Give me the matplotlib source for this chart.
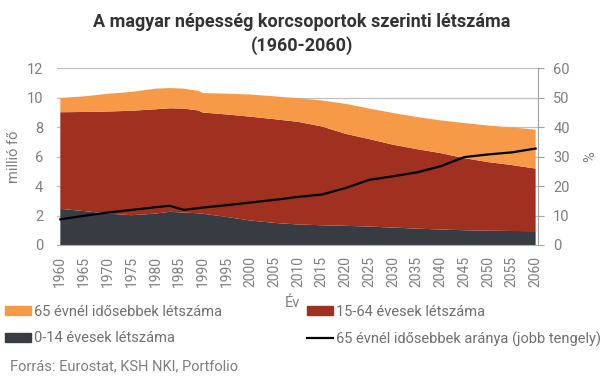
import matplotlib
matplotlib.use("Agg")
import matplotlib.pyplot as plt
from matplotlib.patches import Patch
from matplotlib.lines import Line2D

plt.rcParams['font.family'] = ['Roboto', 'DejaVu Sans']

years = [1960, 1965, 1970, 1975, 1980, 1983, 1986, 1989, 1990, 1995, 2000,
         2005, 2010, 2015, 2020, 2025, 2030, 2035, 2040, 2045, 2050, 2055, 2060]
age_0_14 = [2.45, 2.30, 2.13, 2.02, 2.13, 2.25, 2.20, 2.15, 2.12, 1.90, 1.66,
            1.50, 1.39, 1.34, 1.30, 1.25, 1.18, 1.11, 1.05, 1.00, 0.97, 0.95, 0.94]
age_15_64 = [6.55, 6.72, 6.92, 7.08, 7.07, 7.02, 7.05, 6.97, 6.86, 6.95, 7.04,
             7.03, 6.96, 6.70, 6.24, 5.93, 5.62, 5.39, 5.18, 4.89, 4.65, 4.47, 4.24]
age_65 = [0.96, 1.06, 1.20, 1.28, 1.40, 1.37, 1.35, 1.33, 1.32, 1.41, 1.50,
          1.55, 1.60, 1.76, 2.03, 2.07, 2.15, 2.18, 2.22, 2.38, 2.48, 2.55, 2.64]
share_65 = [8.7, 9.9, 11.0, 11.9, 12.8, 13.3, 11.9, 12.5, 12.7, 13.5, 14.4,
            15.3, 16.3, 17.1, 19.3, 22.1, 23.3, 24.6, 26.7, 29.8, 30.7, 31.4, 32.7]
xticks = list(range(1960, 2061, 5))

c_dark = '#373B42'
c_red = '#A0301F'
c_orange = '#F69A48'
grey_txt = '#7f7f7f'

fig = plt.figure(figsize=(6.06, 3.79), dpi=100)
ax = fig.add_axes([57/606, 1-245/379, (538-57)/606, (245-68)/379])
ax.stackplot(years, age_0_14, age_15_64, age_65,
             colors=[c_dark, c_red, c_orange], zorder=2)
ax.set_xlim(1959.3, 2060.5)
ax.set_ylim(0, 12)
ax.set_yticks(range(0, 13, 2))
ax.set_xticks(xticks)
ax.set_xticklabels([str(y) for y in xticks], rotation=90)
ax.grid(axis='y', color='#c0c0c0', lw=0.9, zorder=0)
ax.set_axisbelow(True)
for s in ['left', 'top', 'right']:
    ax.spines[s].set_visible(False)
ax.spines['bottom'].set_color('#b0b0b0')
ax.tick_params(axis='x', length=0, pad=8, labelsize=10, labelcolor=grey_txt)
ax.tick_params(axis='y', length=0, pad=10, labelsize=10.5, labelcolor=grey_txt)
ax.set_ylabel('millió fő', color=grey_txt, fontsize=10.5)
ax.yaxis.set_label_coords(-0.075, 0.5)
ax.set_xlabel('Év', color=grey_txt, fontsize=10.5)
ax.xaxis.set_label_coords(0.49, -0.29)

ax2 = ax.twinx()
ax2.plot(years, share_65, color='black', lw=1.6, zorder=5)
ax2.set_ylim(0, 60)
ax2.set_yticks(range(0, 61, 10))
for s in ['left', 'top', 'bottom']:
    ax2.spines[s].set_visible(False)
ax2.spines['right'].set_color('#a0a0a0')
ax2.tick_params(axis='y', length=4, color='#a0a0a0', pad=7, labelsize=10.5,
                labelcolor=grey_txt)
ax2.set_ylabel('%', color=grey_txt, fontsize=10.5)
ax2.yaxis.set_label_coords(1.095, 0.5)

fig.text(302/606, 1-34/379, 'A magyar népesség korcsoportok szerinti létszáma\n(1960-2060)',
         ha='center', va='center', fontsize=13, fontweight='bold', color='#333333',
         linespacing=1.4)

hkw = dict(frameon=False, loc='upper left', borderpad=0, borderaxespad=0,
           handlelength=1.8, handleheight=0.6, handletextpad=0.2,
           labelspacing=0.85, fontsize=10.5, labelcolor='#707070',
           bbox_transform=fig.transFigure)
fig.legend([Patch(color=c_orange), Patch(color=c_dark)],
           ['65 évnél idősebbek létszáma', '0-14 évesek létszáma'],
           bbox_to_anchor=(5/606, 1-305/379), **hkw)
fig.legend([Patch(color=c_red), Line2D([], [], color='black', lw=1.6)],
           ['15-64 évesek létszáma', '65 évnél idősebbek aránya (jobb tengely)'],
           bbox_to_anchor=(307/606, 1-305/379), **hkw)

fig.text(10/606, 1-366/379, 'Forrás: Eurostat, KSH NKI, Portfolio',
         ha='left', va='center', fontsize=10.5, color=grey_txt)

fig.savefig('out.png', dpi=100)
